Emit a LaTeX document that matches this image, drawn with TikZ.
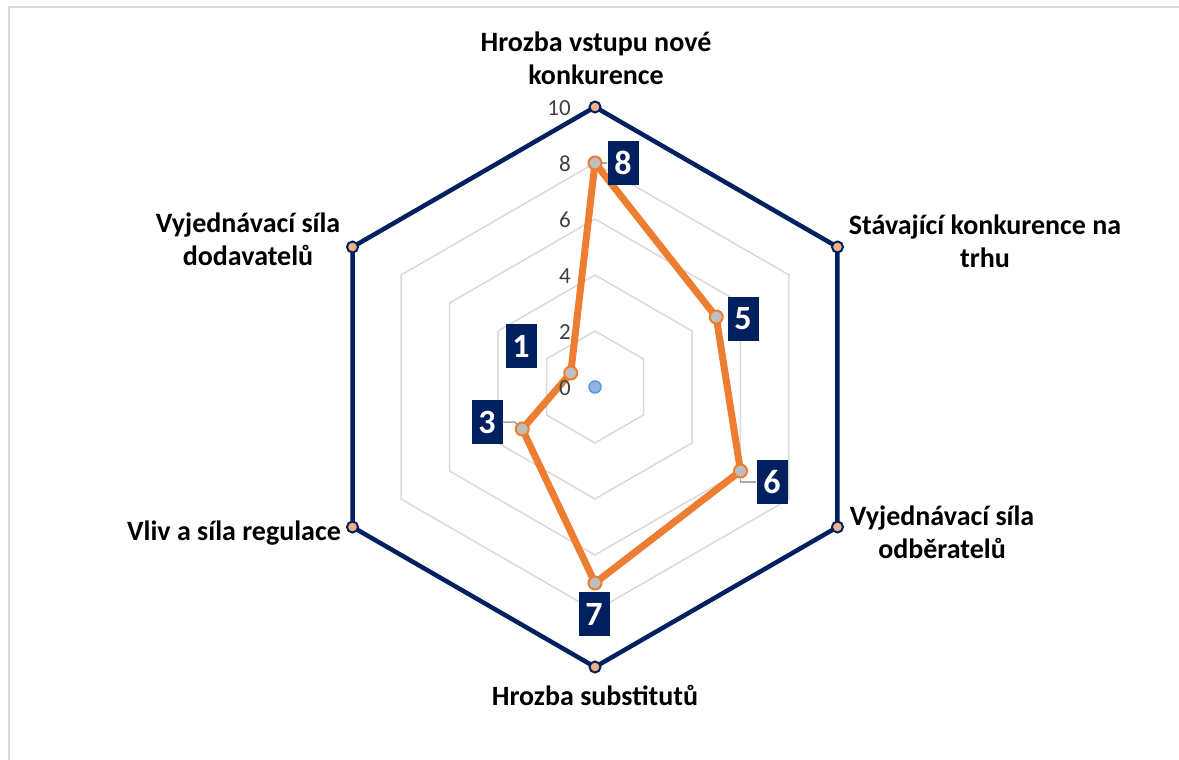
\documentclass[tikz,border=0pt]{standalone}
\usepackage{fontspec}
\setmainfont{Carlito}
\usetikzlibrary{calc}
\definecolor{navy}{HTML}{002060}
\definecolor{orng}{HTML}{ED7D31}
\definecolor{gridc}{HTML}{D9D9D9}
\definecolor{framec}{HTML}{D9D9D9}
\definecolor{peach}{HTML}{F4B183}
\definecolor{mgray}{HTML}{BFBFBF}
\definecolor{leadc}{HTML}{A6A6A6}
\definecolor{tickc}{HTML}{404040}
\definecolor{dotfill}{HTML}{8DB4E2}
\definecolor{dotdraw}{HTML}{5B9BD5}
\begin{document}
\begin{tikzpicture}[x=1pt,y=-1pt,
  gridline/.style={draw=gridc, line width=1.5pt},
  outerline/.style={draw=navy, line width=4.5pt, line join=miter},
  dataline/.style={draw=orng, line width=7pt, line join=round},
  vmark/.style={circle, fill=peach, draw=navy, line width=2pt, minimum size=11pt, inner sep=0pt},
  dmark/.style={circle, fill=mgray, draw=orng, line width=2pt, minimum size=13pt, inner sep=0pt},
  valbox/.style={fill=navy, text=white, font=\fontsize{34}{40}\selectfont\bfseries, minimum width=31pt, minimum height=44pt, inner sep=0pt},
  leader/.style={draw=leadc, line width=1.5pt},
  ticklbl/.style={text=tickc, font=\fontsize{23}{27}\selectfont, inner sep=0pt, anchor=east},
  catlbl/.style={text=black, font=\fontsize{28}{33}\selectfont\bfseries, align=center, inner sep=0pt},
  cdot/.style={circle, fill=dotfill, draw=dotdraw, line width=1.5pt, minimum size=12pt, inner sep=0pt}
]
\useasboundingbox (0,0) rectangle (1179,760);
\draw[draw=framec, line width=2pt] (8.5,760) -- (8.5,7.5) -- (1179,7.5);
\coordinate (c) at (595,387);
% grid hexagons
\foreach \v in {2,4,6,8}
  \draw[gridline] ($(c)+(0,{-28*\v})$)
    \foreach \a in {30,-30,-90,-150,150} { -- ($(c)+({28*\v*cos(\a)},{-28*\v*sin(\a)})$) } -- cycle;
% outer hexagon
\foreach \a [count=\i] in {90,30,-30,-90,-150,150}
  \coordinate (v\i) at ($(c)+({280*cos(\a)},{-280*sin(\a)})$);
\draw[outerline] (v1) -- (v2) -- (v3) -- (v4) -- (v5) -- (v6) -- cycle;
\foreach \i in {1,...,6} \node[vmark] (m\i) at (v\i) {};
% data
\foreach \a/\val [count=\i] in {90/8,30/5,-30/6,-90/7,-150/3,150/1}
  \coordinate (p\i) at ($(c)+({28*\val*cos(\a)},{-28*\val*sin(\a)})$);
\node[cdot] (cd) at (c) {};
\draw[dataline] (p1) -- (p2) -- (p3) -- (p4) -- (p5) -- (p6) -- cycle;
% tick labels
\foreach \t in {0,2,4,6,8,10}
  \node[ticklbl] (t\t) at (571,{388-28*\t}) {\t};
% value boxes
\node[valbox] (l1) at (623,163) {8};
\node[valbox] (l2) at (743,319) {5};
\node[valbox] (l3) at (772,482) {6};
\node[valbox] (l4) at (594,614) {7};
\node[valbox] (l5) at (487,422) {3};
\node[valbox] (l6) at (521,346) {1};
% leaders
\draw[leader] (p1) -- (l1.west);
\draw[leader] (p3) -- (p3 |- l3.west) -- (l3.west);
\draw[leader] (l5.east) -- ++(12,0) -- (p5);
\foreach \i in {1,...,6} \node[dmark] (d\i) at (p\i) {};
% category labels
\node[catlbl] (c1) at (596,58.5) {Hrozba vstupu nové\\konkurence};
\node[catlbl] (c2) at (985,241) {Stávající konkurence na\\trhu};
\node[catlbl] (c3) at (942,532) {Vyjednávací síla\\odběratelů};
\node[catlbl] (c4) at (595,695.5) {Hrozba substitutů};
\node[catlbl] (c5) at (234,533) {Vliv a síla regulace};
\node[catlbl] (c6) at (248,239) {Vyjednávací síla\\dodavatelů};
\end{tikzpicture}
\end{document}
